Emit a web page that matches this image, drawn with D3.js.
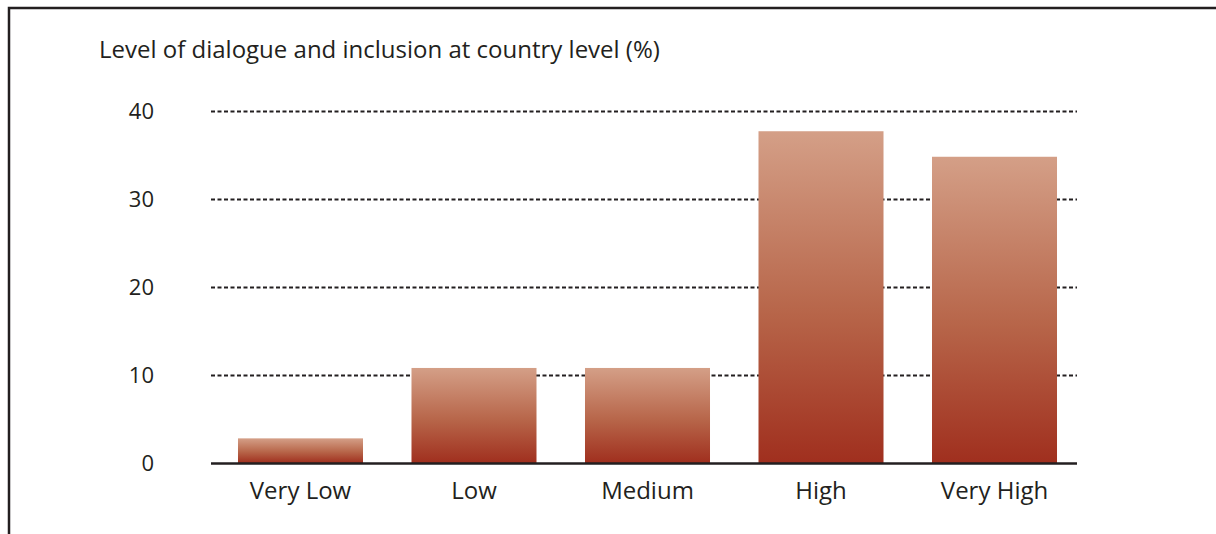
<!DOCTYPE html>
<html>
<head>
<meta charset="utf-8">
<script src="https://cdn.jsdelivr.net/npm/d3@7"></script>
<style>
  html, body { margin: 0; padding: 0; background: #fff; }
  svg text { font-family: "Open Sans", "Noto Sans", sans-serif; fill: #231f20; }
</style>
</head>
<body>
<svg id="chart" width="1216" height="534"></svg>
<script>
// data
const categories = ["Very Low", "Low", "Medium", "High", "Very High"];
const values = [2.8, 10.8, 10.8, 37.7, 34.8];
const yTicks = [0, 10, 20, 30, 40];
const title = "Level of dialogue and inclusion at country level (%)";

const width = 1216, height = 534;
const svg = d3.select("#chart");

// frame: top and left edges only
svg.append("path")
    .attr("d", `M9,${height} V8 H${width}`)
    .attr("fill", "none")
    .attr("stroke", "#231f20")
    .attr("stroke-width", 2.5);

const x = d3.scaleBand()
    .domain(categories)
    .range([213.7, 1081.3])
    .paddingInner(0.2795)
    .paddingOuter(0.14);

const y = d3.scaleLinear()
    .domain([0, 40])
    .range([463, 111]);

const defs = svg.append("defs");
const grad = defs.append("linearGradient")
    .attr("id", "barGrad")
    .attr("x1", 0).attr("y1", 0)
    .attr("x2", 0).attr("y2", 1);
grad.append("stop").attr("offset", "0%").attr("stop-color", "#d49f87");
grad.append("stop").attr("offset", "55%").attr("stop-color", "#b76549");
grad.append("stop").attr("offset", "100%").attr("stop-color", "#a02f1e");

// title
svg.append("text")
    .attr("x", 99)
    .attr("y", 58)
    .attr("font-size", 24)
    .text(title);

// gridlines + tick labels
const yAxis = svg.append("g")
    .attr("transform", "translate(211,0)")
    .call(d3.axisLeft(y).tickValues(yTicks).tickSize(-866).tickPadding(57));
yAxis.select(".domain").remove();
yAxis.selectAll(".tick line")
    .attr("stroke", "#231f20")
    .attr("stroke-width", 1.8)
    .attr("stroke-dasharray", "4,2.5")
    .attr("display", d => d === 0 ? "none" : null);
yAxis.selectAll(".tick text")
    .attr("font-size", 22)
    .attr("fill", "#231f20")
    .attr("font-family", null);

// bars
svg.append("g")
    .selectAll("rect")
    .data(values)
    .join("rect")
    .attr("x", (d, i) => x(categories[i]))
    .attr("y", d => y(d))
    .attr("width", x.bandwidth())
    .attr("height", d => y(0) - y(d))
    .attr("fill", "url(#barGrad)");

// baseline + category labels
const xAxis = svg.append("g")
    .attr("transform", `translate(0,${y(0)})`)
    .call(d3.axisBottom(x).tickSize(0).tickPadding(19));
xAxis.select(".domain")
    .attr("d", "M211,0.5H1077")
    .attr("stroke", "#231f20")
    .attr("stroke-width", 2.5);
xAxis.selectAll(".tick text")
    .attr("font-size", 24)
    .attr("fill", "#231f20")
    .attr("font-family", null);
</script>
</body>
</html>
